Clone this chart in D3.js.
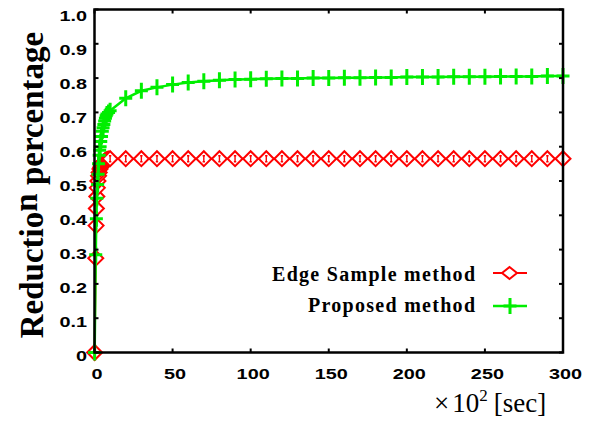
<!DOCTYPE html>
<html><head><meta charset="utf-8">
<script src="https://cdn.jsdelivr.net/npm/d3@7"></script>
<style>body{margin:0;background:#fff}svg{display:block}</style>
</head><body>
<script>
// ---- data ----
const xTicks = [0, 50, 100, 150, 200, 250, 300];
const yTicks = [0, 0.1, 0.2, 0.3, 0.4, 0.5, 0.6, 0.7, 0.8, 0.9, 1.0];
const yTickLabels = ["0","0.1","0.2","0.3","0.4","0.5","0.6","0.7","0.8","0.9","1.0"];
const seriesNames = ["Edge Sample method", "Proposed method"];

const edgeTime = [0.1,0.8,1.0,1.2,1.5,1.8,2.2,2.6,3,3.5,4,4.5,5,5.5,6,6.5,7,7.5,8,8.5,9,10,
  20,30,40,50,60,70,80,90,100,110,120,130,140,150,160,170,180,190,200,210,220,230,240,250,260,270,280,290,300];
const edgeValue = [0,0.275,0.37,0.42,0.455,0.48,0.50,0.515,0.525,0.535,0.54,0.545,0.55,0.553,0.556,0.558,0.56,0.561,0.562,0.563,0.564,0.565,
  0.565,0.565,0.565,0.565,0.565,0.565,0.565,0.565,0.565,0.565,0.565,0.565,0.565,0.565,0.565,0.565,0.565,0.565,0.565,0.565,0.565,0.565,0.565,0.565,0.565,0.565,0.565,0.565,0.565];

const propTime = [0.1,0.8,1.2,1.5,2,2.3,2.6,3,3.3,3.6,4,4.5,5,5.5,6,6.5,7,7.5,8,9,10,
  20,30,40,50,60,70,80,90,100,110,120,130,140,150,160,170,180,190,200,210,220,230,240,250,260,270,280,290,300];
const propValue = [0,0.285,0.39,0.45,0.49,0.52,0.55,0.575,0.59,0.60,0.615,0.63,0.645,0.655,0.665,0.675,0.683,0.69,0.695,0.70,0.705,
  0.741,0.763,0.773,0.781,0.787,0.791,0.794,0.796,0.797,0.798,0.799,0.799,0.800,0.800,0.801,0.801,0.802,0.802,0.803,0.803,0.803,0.804,0.804,0.804,0.805,0.805,0.805,0.806,0.806,0.806];

// ---- layout ----
const W = 592, H = 421;
const L = 94.5, R = 563, T = 9.5, B = 352.5;
const RED = "#ff0000", GREEN = "#00ee00";

const svg = d3.select("body").append("svg").attr("width", W).attr("height", H);
svg.append("rect").attr("width", W).attr("height", H).attr("fill", "#fff");

const x = d3.scaleLinear().domain([0, 300]).range([L, R]);
const y = d3.scaleLinear().domain([0, 1]).range([B, T]);
const yLab = d3.scaleLinear().domain([0, 1]).range([B + 8, T + 11]);

// series
const edge = edgeTime.map((t, i) => [t, edgeValue[i]]);
const prop = propTime.map((t, i) => [t, propValue[i]]);
const line = d3.line().x(d => x(d[0])).y(d => y(d[1]));

function diamond(g, cx, cy, s) {
  g.append("path")
    .attr("d", `M${cx - s},${cy}L${cx},${cy - s}L${cx + s},${cy}L${cx},${cy + s}Z`)
    .attr("fill", "#fff").attr("stroke", RED).attr("stroke-width", 2);
  g.append("path")
    .attr("d", `M${cx},${cy - 3}V${cy + 3}M${cx - 1.2},${cy - 3}H${cx + 1.2}M${cx - 1.2},${cy + 3}H${cx + 1.2}`)
    .attr("stroke", RED).attr("stroke-width", 1.4).attr("fill", "none");
}
function plus(g, cx, cy) {
  g.append("path")
    .attr("d", `M${cx - 6.5},${cy}H${cx + 6.5}M${cx},${cy - 8}V${cy + 8}`)
    .attr("stroke", GREEN).attr("stroke-width", 3).attr("fill", "none");
}

const gEdge = svg.append("g");
gEdge.append("path").datum(edge).attr("d", line).attr("fill", "none").attr("stroke", RED).attr("stroke-width", 2);
edge.forEach(d => diamond(gEdge, x(d[0]), y(d[1]), 7.5));

const gProp = svg.append("g");
gProp.append("path").datum(prop).attr("d", line).attr("fill", "none").attr("stroke", GREEN).attr("stroke-width", 2.5);
prop.forEach(d => plus(gProp, x(d[0]), y(d[1])));

// frame
svg.append("rect").attr("x", L).attr("y", T).attr("width", R - L).attr("height", B - T)
  .attr("fill", "none").attr("stroke", "#000").attr("stroke-width", 2.5);

// ticks (inward, all four sides)
const tk = svg.append("g").attr("stroke", "#000").attr("stroke-width", 2);
xTicks.forEach(v => {
  tk.append("line").attr("x1", x(v)).attr("x2", x(v)).attr("y1", B).attr("y2", B - 4);
  tk.append("line").attr("x1", x(v)).attr("x2", x(v)).attr("y1", T).attr("y2", T + 4);
});
yTicks.forEach(v => {
  tk.append("line").attr("x1", L).attr("x2", L + 4).attr("y1", y(v)).attr("y2", y(v));
  tk.append("line").attr("x1", R).attr("x2", R - 4).attr("y1", y(v)).attr("y2", y(v));
});

// tick labels (wide bold sans)
const tickFont = "'Liberation Sans', Arial, Helvetica, sans-serif";
svg.append("g").selectAll("text").data(xTicks).join("text")
  .attr("transform", d => `translate(${x(d) + 2.5},378.5) scale(1.28,1)`)
  .attr("text-anchor", "middle").attr("font-family", tickFont).attr("font-weight", "bold")
  .attr("font-size", 15.5).text(d => d);
svg.append("g").selectAll("text").data(yTicks).join("text")
  .attr("transform", d => `translate(87,${yLab(d)}) scale(1.28,1)`)
  .attr("text-anchor", "end").attr("font-family", tickFont).attr("font-weight", "bold")
  .attr("font-size", 15.5).text((d, i) => yTickLabels[i]);

// axis labels
const serif = "'Liberation Serif', 'Times New Roman', Times, serif";
const yl = svg.append("text")
  .attr("transform", "translate(43,185) rotate(-90)")
  .attr("text-anchor", "middle").attr("font-family", serif).attr("font-weight", "bold")
  .attr("font-size", 33);
yl.append("tspan").text("Reductio");
yl.append("tspan").attr("dy", -6).text("n");
yl.append("tspan").attr("dy", 6).text(" percentage");

const xl = svg.append("text").attr("x", 434).attr("y", 412)
  .attr("font-family", serif).attr("font-size", 27);
xl.append("tspan").text("\u00d7");
xl.append("tspan").attr("dx", 3).text("10");
xl.append("tspan").attr("dy", -11).attr("font-size", 17).text("2");
xl.append("tspan").attr("dy", 11).attr("dx", 6).text("[sec]");

// legend
const legY = [273, 306];
const legBase = [281, 312];
const legLen = [203, 167];
seriesNames.forEach((name, i) => {
  svg.append("text").attr("x", 475 - legLen[i]).attr("y", legBase[i])
    .attr("font-family", serif).attr("font-weight", "bold")
    .attr("font-size", 20).attr("textLength", legLen[i]).attr("lengthAdjust", "spacing").text(name);
  const col = i === 0 ? RED : GREEN;
  svg.append("line").attr("x1", 493).attr("x2", 527).attr("y1", legY[i]).attr("y2", legY[i])
    .attr("stroke", col).attr("stroke-width", i === 0 ? 2 : 2.5);
});
{
  const g = svg.append("g");
  const cx = 509.5, cy = legY[0];
  g.append("path").attr("d", `M${cx - 7.5},${cy}L${cx},${cy - 6}L${cx + 7.5},${cy}L${cx},${cy + 6}Z`)
    .attr("fill", "#fff").attr("stroke", RED).attr("stroke-width", 2);
  plus(svg.append("g"), 510, legY[1]);
}
</script>
</body></html>
